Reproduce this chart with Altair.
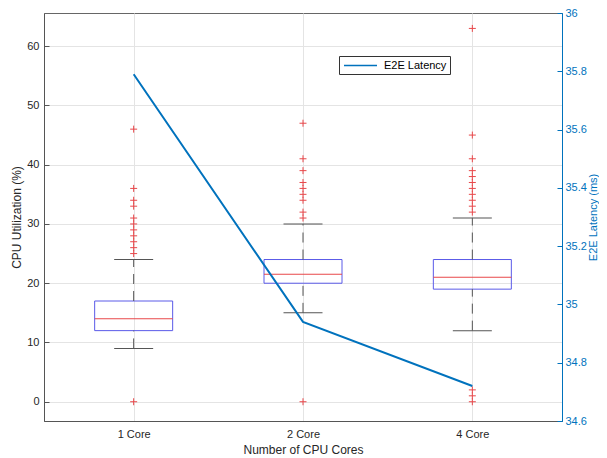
import altair as alt
import pandas as pd

# ---------------- data ----------------
categories = ["1 Core", "2 Core", "4 Core"]
positions = [1, 2, 3]
q1 = [12, 20, 19]
median = [14, 21.5, 21]
q3 = [17, 24, 24]
whisker_lo = [9, 15, 12]
whisker_hi = [24, 30, 31]
outliers_1core = [0, 25, 26, 27, 28, 29, 30, 31, 33, 34, 36, 46]
outliers_2core = [0, 31, 32, 34, 35, 36, 37, 39, 41, 47]
outliers_4core = [0, 1, 2, 32, 33, 34, 35, 36, 37, 38, 39, 41, 45, 63]
latency_ms = [35.79, 34.94, 34.72]
series_name = "E2E Latency"

# ---------------- tables ----------------
boxes = pd.DataFrame({"pos": positions, "cat": categories, "q1": q1, "med": median,
                      "q3": q3, "lo": whisker_lo, "hi": whisker_hi})
out_rows = []
for p, vals in zip(positions, [outliers_1core, outliers_2core, outliers_4core]):
    for v in vals:
        out_rows.append({"pos": p, "val": v})
outliers = pd.DataFrame(out_rows)
lat = pd.DataFrame({"pos": positions, "lat": latency_ms, "series": [series_name] * 3})

FONT = "Liberation Sans"
TXT = "#262626"
BLUE_BOX = "#5a5ae8"
RED = "#e8474a"
GRAY = "#555555"
LINE = "#0072BD"
INWARD = alt.ExprRef(expr="-5")

label_expr = "datum.value == 1 ? '1 Core' : datum.value == 2 ? '2 Core' : '4 Core'"
xaxis = alt.Axis(values=[1, 2, 3], labelExpr=label_expr, title="Number of CPU Cores",
                 grid=True, tickSize=0, labelPadding=7, titlePadding=5,
                 labelFontSize=11, titleFontSize=12, domainColor=GRAY)
X = alt.X("pos:Q", scale=alt.Scale(domain=[0.5, 3.5], nice=False, zero=False), axis=xaxis)

yscale = alt.Scale(domain=[-3.25, 65.6], nice=False, zero=False)
yaxis = alt.Axis(values=[0, 10, 20, 30, 40, 50, 60], title="CPU Utilization (%)",
                 tickSize=INWARD, tickColor=GRAY, labelPadding=10, titleX=-28,
                 titleBaseline="middle",
                 labelFontSize=11, titleFontSize=12, domainColor=GRAY)

def Y(field):
    return alt.Y(field, scale=yscale, axis=yaxis)

base = alt.Chart(boxes)
box = base.mark_bar(size=78, fill="white", fillOpacity=0, stroke=BLUE_BOX, strokeWidth=1).encode(
    x=X, y=Y("q1:Q"), y2="q3:Q")
whisk_up = base.mark_rule(color=GRAY, strokeDash=[10, 7], strokeWidth=1).encode(
    x=X, y=Y("q3:Q"), y2="hi:Q")
whisk_lo = base.mark_rule(color=GRAY, strokeDash=[10, 7], strokeWidth=1).encode(
    x=X, y=Y("lo:Q"), y2="q1:Q")
cap_up = base.mark_tick(orient="horizontal", size=39, thickness=1, color=GRAY, opacity=1).encode(
    x=X, y=Y("hi:Q"))
cap_lo = base.mark_tick(orient="horizontal", size=39, thickness=1, color=GRAY, opacity=1).encode(
    x=X, y=Y("lo:Q"))
med = base.mark_tick(orient="horizontal", size=78, thickness=1, color=RED, opacity=1).encode(
    x=X, y=Y("med:Q"))
outl = alt.Chart(outliers).mark_point(shape="M-1,0H1M0,-1V1", size=49, filled=False,
                                      stroke=RED, strokeWidth=1, opacity=1).encode(
    x=X, y=Y("val:Q"))

left = alt.layer(box, whisk_up, whisk_lo, cap_up, cap_lo, med, outl)

raxis = alt.Axis(values=[34.6, 34.8, 35.0, 35.2, 35.4, 35.6, 35.8, 36.0], format=".1~f",
                 orient="right", grid=False, tickSize=INWARD, tickColor=LINE, labelPadding=8,
                 title="E2E Latency (ms)", titleAngle=270, titleX=34, titleY=204,
                 titleAlign="center", titleBaseline="alphabetic",
                 labelColor=LINE, titleColor=LINE, domainColor=LINE,
                 labelFontSize=11, titleFontSize=11)
line = alt.Chart(lat).mark_line(strokeWidth=2).encode(
    x=X,
    y=alt.Y("lat:Q", scale=alt.Scale(domain=[34.6, 36.0], nice=False, zero=False), axis=raxis),
    color=alt.Color("series:N", scale=alt.Scale(range=[LINE]),
                    legend=alt.Legend(title=None, orient="none", legendX=295, legendY=43,
                                      strokeColor="#333333", fillColor="white", padding=3,
                                      symbolType="M-1,0H5", symbolSize=121, symbolStrokeWidth=1.5,
                                      symbolOffset=1, labelOffset=28,
                                      labelFontSize=11, labelColor="#000000")),
)

chart = alt.layer(left, line).resolve_scale(y="independent").properties(
    width=518, height=408,
    autosize=alt.AutoSizeParams(type="none"),
    padding={"left": 36, "top": 5, "right": 37, "bottom": 37},
).configure(font=FONT).configure_axis(
    labelColor=TXT, titleColor=TXT, titleFontWeight="normal", gridColor="#e4e4e4",
    labelFont=FONT, titleFont=FONT,
).configure_view(stroke="#666666", strokeWidth=1).configure_legend(labelFont=FONT)

chart.save("out.html", embed_options={"renderer": "svg", "actions": False})
